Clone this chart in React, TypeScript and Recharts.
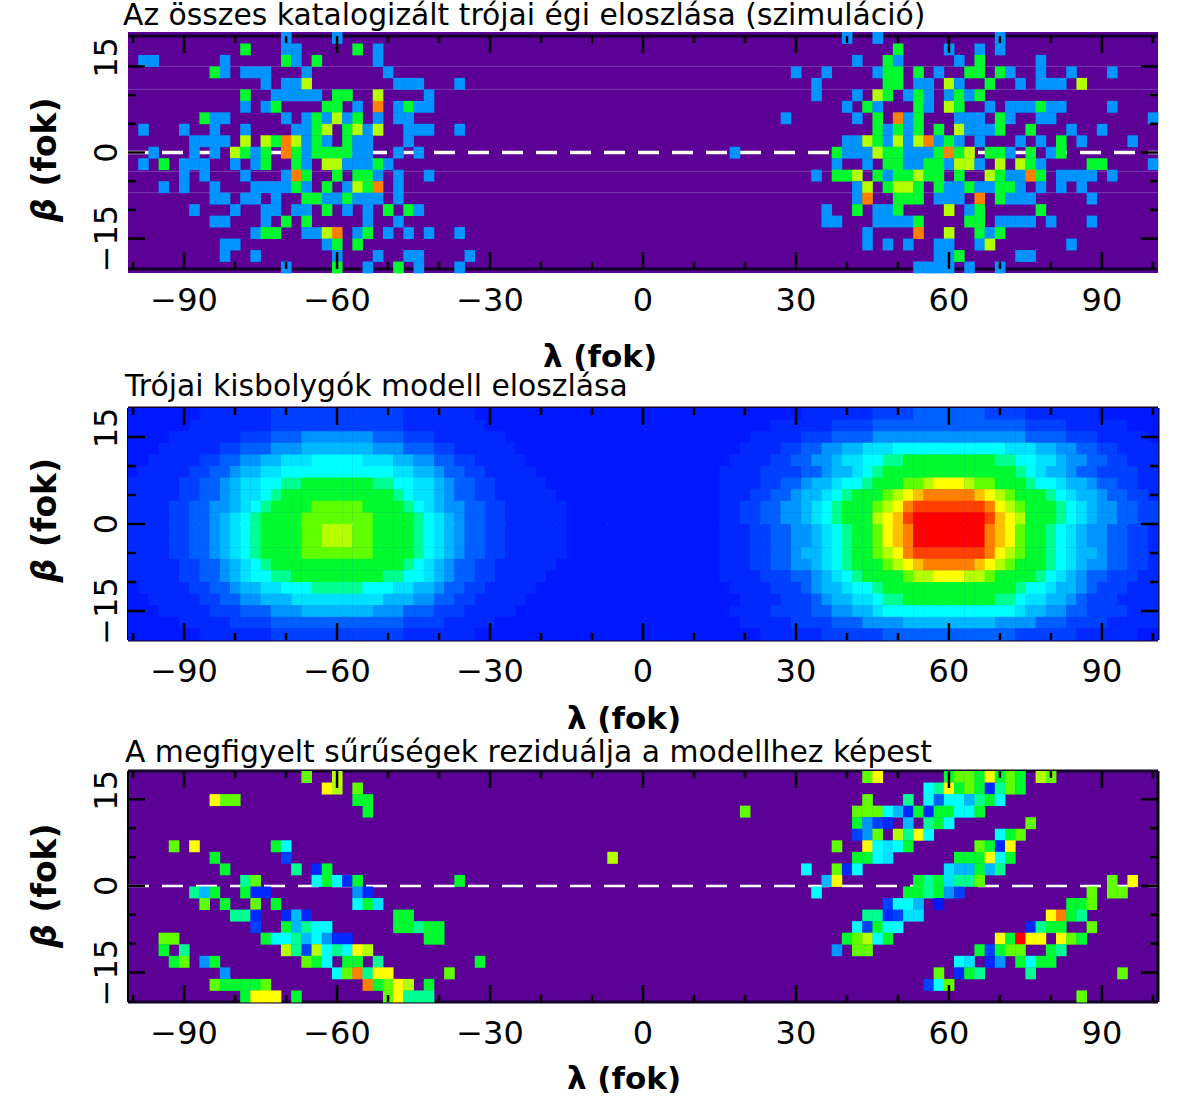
import { ScatterChart, Scatter, XAxis, YAxis, ReferenceLine, CartesianGrid } from "recharts";

const FONT = "'DejaVu Sans', sans-serif";

const lambdaTicks = [-100, -90, -80, -70, -60, -50, -40, -30, -20, -10, 0, 10, 20, 30, 40, 50, 60, 70, 80, 90, 100];
const betaTicks = [-15, -10, -5, 0, 5, 10, 15];

// rainbow levels used by all three maps
const palette: Record<string, string> = {
  "0": "#0018ff", "1": "#0028ff", "2": "#0040ff", "3": "#0060ff", "4": "#0094ff",
  "5": "#00b8ff", "6": "#00e0ff", "7": "#00ffff", "8": "#00ff90", "9": "#00fa30",
  a: "#60ff00", b: "#b4ff00", c: "#ffff00", d: "#ffc000", e: "#ff8000", f: "#ff4000", g: "#ff0000",
};

const catalogBetas = [20, 18, 16, 14, 12, 10, 8, 6, 4, 2, 0, -2, -4, -6, -8, -10, -12, -14, -16, -18, -20];
const catalogRows = [
  "-70:4 -60:4 40:4 46:4 70:4",
  "-78:9 -70:4 -68:4 -56:9 -52:4 50:9 60:4 66:4 70:4",
  "-98:4 -96:4 -82:4 -70:9 -68:4 -64:9 -52:4 42:4 48:9 50:4 62:4 66:9 78:4",
  "-84:9 -82:4 -78:4 -76:4 -74:4 -66:4 -50:4 30:4 36:4 46:4 48:9 50:9 54:9 58:4 64:9 66:9 70:9 72:4 78:4 84:4 92:4",
  "-74:4 -70:4 -68:4 -66:b -48:4 -46:4 -44:4 -36:4 34:4 48:9 50:9 54:4 56:4 60:b 62:4 68:9 74:4 78:4 80:4 82:4 86:b",
  "-78:9 -72:4 -70:4 -68:4 -66:4 -64:4 -60:9 -58:9 -52:b -42:4 34:4 42:4 46:b 48:9 52:4 54:9 56:4 60:4 62:9 64:4 66:9",
  "-78:4 -74:4 -72:9 -62:9 -60:9 -56:4 -52:e -48:4 -46:9 -44:4 -42:4 40:4 44:9 46:4 54:9 56:4 60:b 62:9 68:4 72:4 74:4 76:4 78:9 80:4 82:4 92:4",
  "-86:9 -84:4 -82:4 -70:4 -66:4 -64:9 -62:4 -60:b -58:4 -56:9 -52:4 -48:4 -46:4 28:4 42:4 46:9 50:e 52:4 54:9 62:4 64:4 66:4 70:9 72:4 78:4 80:4 100:4",
  "-98:4 -90:4 -84:4 -78:4 -68:4 -66:4 -64:9 -62:b -58:9 -56:b -54:4 -52:b -46:4 -44:4 -42:4 -36:4 46:9 48:4 50:9 52:4 54:9 58:9 62:b 64:4 66:4 68:4 70:9 76:9 84:4 90:4",
  "-88:4 -86:4 -84:4 -82:4 -78:b -74:b -72:9 -70:e -68:b -66:4 -64:9 -62:4 -58:9 -56:4 -54:4 -46:4 40:4 42:4 44:b 46:9 48:4 50:b 52:4 54:b 56:e 58:4 60:9 62:4 66:4 74:4 78:4 82:9 86:4 96:4",
  "-96:4 -88:4 -84:4 -80:b -78:9 -76:4 -74:9 -70:e -68:9 -66:4 -64:9 -62:9 -60:9 -58:9 -56:4 -54:4 -48:4 -44:4 18:4 38:9 40:4 42:4 44:4 46:b 48:9 50:9 52:4 54:4 56:4 58:9 60:e 62:9 64:b 68:9 70:9 72:4 76:9 80:4 82:9",
  "-98:4 -94:9 -90:4 -88:4 -86:4 -80:4 -76:4 -74:9 -68:9 -66:4 -62:b -60:b -58:4 -56:4 -54:4 -52:9 -50:4 38:4 44:4 48:9 50:9 52:4 54:4 56:9 58:9 60:4 62:b 64:b 66:4 70:b 74:b 76:9 78:4 88:9 90:9 100:4",
  "-90:4 -86:4 -78:4 -70:4 -68:e -66:9 -60:9 -56:9 -54:9 -52:4 -48:4 -42:4 34:4 38:9 40:9 42:b 46:9 48:4 50:9 52:9 54:b 56:9 58:9 62:9 68:b 70:9 72:4 74:4 76:e 78:9 82:4 84:4 86:4 88:4 92:4",
  "-94:4 -90:4 -84:4 -76:4 -74:4 -72:4 -70:4 -68:9 -66:4 -62:9 -58:4 -56:b -54:9 -52:e -48:4 42:4 44:b 48:9 50:b 52:b 54:9 58:9 60:4 62:4 64:9 66:4 68:4 70:9 72:9 74:4 78:4 82:4 86:4",
  "-84:4 -82:4 -78:4 -76:4 -72:4 -66:9 -64:9 -62:4 -60:4 -58:9 -56:4 -54:4 -52:4 -48:4 42:4 44:e 50:9 52:9 54:9 58:4 60:4 62:4 66:e 70:9 72:4 74:4 76:4 88:4",
  "-88:4 -80:4 -74:4 -72:4 -68:4 -66:4 -62:9 -58:4 -54:4 -50:9 -46:9 -44:4 36:4 42:9 46:4 48:4 50:9 60:b 64:4 66:9 78:9",
  "-84:4 -82:4 -74:4 -70:9 -66:9 -54:4 -48:4 36:4 38:4 46:4 48:4 50:4 52:4 54:9 64:9 66:9 70:4 72:4 74:4 76:4 80:4 88:4",
  "-76:4 -74:9 -72:9 -66:4 -64:4 -62:b -60:e -56:4 -54:9 -50:4 -46:4 -42:4 -36:4 44:4 54:e 60:b 66:9 68:4 70:9",
  "-82:4 -80:4 -62:4 -60:9 -56:9 44:4 48:4 52:4 58:4 60:4 66:4 68:b 84:4",
  "-82:4 -76:4 -60:4 -52:4 -46:4 -44:4 -34:4 58:4 60:4 62:9 74:4 76:4",
  "-70:4 -60:9 -54:4 -48:9 -44:4 -36:4 54:4 56:4 58:4 60:4 64:4 70:4",
];
const catalogStreaks = [15, 11, -3.3, -7];

const modelBetas = [19, 17, 15, 13, 11, 9, 7, 5, 3, 1, -1, -3, -5, -7, -9, -11, -13, -15, -17, -19];
// run-length rows, "level*count", left hump then gap then right hump, 101 columns
const modelLeftRows = [
  "0*7 1*7 2*13 1*7 0*9",
  "0*6 1*8 2*13 1*8 0*8",
  "0*4 1*7 2*3 3*3 4*7 3*3 2*3 1*7 0*6",
  "0*3 1*6 2*2 3*3 4*3 5*7 4*3 3*3 2*2 1*6 0*5",
  "0*2 1*5 2*2 3*2 4*2 5*2 6*3 7*5 6*3 5*2 4*2 3*2 2*2 1*5 0*4",
  "0 1*5 2*2 3*2 4 5*2 6*2 7*11 6*2 5*2 4 3*2 2*2 1*5 0*3",
  "1*5 2*2 3*2 4 5 6*2 7*2 8*2 9*7 8*2 7*2 6*2 5 4 3*2 2*2 1*5 0*2",
  "1*5 2*2 3*2 4 5 6*2 7 8 9*11 8 7 6*2 5 4 3*2 2*2 1*6 0",
  "1*4 2*2 3*2 4*2 5 6 7 8 9*4 a*5 9*4 8 7 6 5 4*2 3*2 2*2 1*6",
  "1*4 2*2 3*2 4 5 6 7 8 9*4 a*7 9*4 8 7 6 5 4 3*2 2*2 1*6",
  "1*4 2*2 3*2 4 5 6 7 8 9*4 a*2 b*3 a*2 9*4 8 7 6 5 4 3*2 2*2 1*6",
  "1*4 2*2 3*2 4 5 6 7 8 9*4 a*2 b*3 a*2 9*4 8 7 6 5 4 3*2 2*2 1*6",
  "1*4 2*2 3*2 4 5 6 7 8 9*4 a*7 9*4 8 7 6 5 4 3*2 2*2 1*6",
  "1*5 2*2 3*2 4 5 6 7 8 9*13 8 7 6 5 4 3*2 2*2 1*6 0",
  "1*5 2*2 3*2 4 5 6 7*2 8*2 9*9 8*2 7*2 6 5 4 3*2 2*2 1*5 0*2",
  "0 1*5 2*2 3*2 4 5*2 6*2 7*3 8*5 7*3 6*2 5*2 4 3*2 2*2 1*5 0*3",
  "0*2 1*5 2*2 3*2 4*2 5*3 6*9 5*3 4*2 3*2 2*2 1*5 0*4",
  "0*3 1*5 2*3 3*3 4*3 5*7 4*3 3*3 2*3 1*5 0*5",
  "0*5 1*5 2*4 3*13 2*4 1*5 0*7",
  "0*7 1*7 2*13 1*7 0*9",
];
const modelGap = "0*15";
const modelRightRows = [
  "0*8 1*7 2*4 3*7 2*4 1*7 0*6",
  "0*5 1*6 2*4 3*15 2*4 1*6 0*3",
  "0*3 1*5 2*3 3*4 4*15 3*4 2*3 1*5 0",
  "0*2 1*4 2*2 3*2 4*2 5*2 6*3 7*11 6*3 5*2 4*2 3*2 2*2 1*4",
  "0 1*4 2*2 3*2 4*2 5 6*2 7*2 8*2 9*9 8*2 7*2 6*2 5 4*2 3*2 2*2 1*3",
  "1*4 2*4 3*2 4 5*2 6 7 8 9*13 8 7 6 5*2 4 3*2 2*4 1*2",
  "1*4 2*2 3*2 4 5*2 6 7*2 8 9*3 a*2 b c*3 b a*2 9*3 8 7*2 6 5*2 4 3*2 2*2 1*2",
  "1*3 2*2 3*2 4 5*2 6 7 8 9*3 a b c d e*5 d c b a 9*3 8 7 6 5*2 4 3*2 2*2 1",
  "1*2 2*2 3*2 4*2 5 6 7 8 9*3 a b c e f*7 e c b a 9*3 8 7 6 5 4*2 3*2 2*2",
  "1*2 2*2 3*2 4*2 5 6 7 8 9*3 b c d f g*7 f d c b 9*3 8 7 6 5 4*2 3*2 2*2",
  "1*3 2*2 3*2 4*2 5 6 7 8 9*2 a c d e g*7 e d c a 9*2 8 7 6 5 4*2 3*2 2*2 1",
  "1*3 2*2 3*2 4*2 5 6 7 8 9*2 a c d e g*7 e d c a 9*2 8 7 6 5 4*2 3*2 2*2 1",
  "1*3 2*2 3*2 4 5*2 6 7 8 9*2 a b c e f*7 e c b a 9*2 8 7 6 5*2 4 3*2 2*2 1",
  "1*3 2*2 3*2 4*2 5 6 7 8 9*3 a b c d e*5 d c b a 9*3 8 7 6 5 4*2 3*2 2*2 1",
  "1*4 2*3 3*2 4 5 6 7 8 9*4 a b*2 c*3 b*2 a 9*4 8 7 6 5 4 3*2 2*3 1*2",
  "0 1*4 2*3 3 4 5*2 6 7*2 8 9*13 8 7*2 6 5*2 4 3 2*3 1*3",
  "0*2 1*4 2*3 3 4 5*2 6*2 7 8*2 9*9 8*2 7 6*2 5*2 4 3 2*3 1*4",
  "0 1*4 2*4 3*2 4*2 5*2 6 7*13 6 5*2 4*2 3*2 2*4 1*3",
  "0*2 1*5 2*4 3*3 4*4 5*9 4*4 3*3 2*4 1*5",
  "0*4 1*6 2*6 3*13 2*6 1*6 0*2",
];

const residualBetas = [18.9, 16.9, 14.9, 12.9, 10.9, 8.9, 6.9, 4.9, 2.9, 0.9, -1.1, -3.1, -5.1, -7.1, -9.1, -11.1, -13.1, -15.1, -17.1, -19.1];
const residualRows = [
  "-66:a -60:b 44:a 46:c 60:9 62:a 64:a 66:9 68:c 70:9 72:a 74:9 78:b 80:a",
  "-62:c -60:b -56:a 56:7 58:8 60:c 62:9 64:a 66:9 68:1 70:8 72:a 74:9",
  "-84:c -82:a -80:a -56:9 -54:9 44:a 52:8 56:7 58:3 60:7 62:7 64:5 66:8 68:9 70:7",
  "-54:9 20:a 42:a 44:a 46:a 48:7 50:5 52:1 54:9 56:1 58:9 60:9 62:7 64:7 66:9",
  "42:9 44:4 46:2 48:1 52:5 56:8 58:9 60:7 76:a",
  "42:2 44:4 46:a 50:b 52:8 54:c 56:7 70:7 72:9 74:a",
  "-92:a -88:c -72:9 -70:7 38:a 44:c 46:7 48:6 50:7 52:9 66:a 68:9 70:1 72:c",
  "-84:9 -70:2 -6:b 42:9 44:9 46:7 48:6 62:9 64:9 66:9 68:c 70:7 72:9",
  "-82:9 -68:8 -64:1 -62:9 32:7 38:a 40:1 42:7 60:6 62:5 64:5 66:9 68:5 70:8",
  "-78:8 -76:a -64:7 -62:9 -60:7 -58:1 -56:9 -36:9 36:5 38:c 54:9 56:8 58:9 60:6 62:8 64:8 66:a 92:a 96:c",
  "-88:8 -86:5 -84:9 -78:9 -76:1 -74:1 -56:4 -54:1 34:7 52:9 54:9 56:8 58:9 60:4 62:2 88:a 92:a 94:a",
  "-86:a -82:9 -76:a -72:9 -56:7 -54:9 -52:6 48:2 50:7 52:7 54:5 58:0 84:9 86:9 88:a",
  "-80:8 -78:8 -76:1 -70:1 -68:5 -66:1 -48:9 -46:9 44:8 46:8 48:1 50:2 52:6 54:6 80:c 82:e 84:9 86:8",
  "-76:2 -70:9 -68:5 -66:8 -64:7 -62:7 -48:9 -46:9 -44:8 -42:9 -40:9 42:7 44:2 46:9 48:7 50:7 76:1 78:8 80:9 82:9 88:a",
  "-94:a -92:a -74:9 -72:7 -70:7 -68:8 -66:5 -64:7 -62:4 -60:1 -58:1 -42:9 -40:9 40:9 42:a 44:b 46:7 48:9 70:c 72:9 74:g 76:c 78:c 82:c 84:a 86:9",
  "-94:9 -90:8 -70:b -68:8 -66:2 -64:b -62:7 -60:8 -58:7 -56:c -54:b 38:4 42:a 44:a 66:9 68:2 70:9 72:a 74:a 80:9 82:8",
  "-92:9 -90:a -86:4 -84:9 -66:a -64:9 -62:7 -58:9 -56:9 -52:8 -32:9 62:7 64:6 68:1 70:4 74:9 76:7 78:9 80:9",
  "-82:4 -60:7 -58:a -56:e -54:8 -52:c -50:c -38:a 58:a 62:1 64:9 66:8 76:8 94:a",
  "-84:a -82:9 -80:9 -78:9 -76:9 -74:a -54:e -52:9 -50:a -48:c -46:b -42:9 56:2 58:7 60:a",
  "-78:9 -76:c -74:c -72:c -68:9 -50:a -48:c -46:8 -44:8 -42:8 86:a",
];

type Cell = { x: number; y: number; level: string };

// "lambda:level" tokens, one string per beta row
function sparseCells(rows: string[], betas: number[]): Cell[] {
  const out: Cell[] = [];
  rows.forEach((row, r) => {
    row.split(" ").forEach((tok) => {
      const [x, level] = tok.split(":");
      out.push({ x: Number(x), y: betas[r], level });
    });
  });
  return out;
}

function modelCells(): Cell[] {
  const out: Cell[] = [];
  modelBetas.forEach((beta, r) => {
    const row = modelLeftRows[r] + " " + modelGap + " " + modelRightRows[r];
    let col = 0;
    row.split(" ").forEach((tok) => {
      const [level, count] = tok.split("*");
      const n = count ? Number(count) : 1;
      for (let k = 0; k < n; k++) {
        out.push({ x: (col - 50) * 2, y: beta, level });
        col++;
      }
    });
  });
  return out;
}

const PLOT_LEFT = 128;
const PLOT_RIGHT = 1158;
const CHART_PAD = 12;
const CELL_W = ((PLOT_RIGHT - PLOT_LEFT) / 202) * 2;

type PanelProps = {
  title: string;
  titleTop: number;
  titleLeft: number;
  plotTop: number;
  plotH: number;
  domain: [number, number];
  cells: Cell[];
  background: string;
  frameInset: number;
  sideFrame: boolean;
  tickLabelDy: number;
  xLabelX: number;
  xLabelDy: number;
  yLabelDy: number;
  dashWidth: number;
  streaks?: number[];
};

function Panel(p: PanelProps) {
  const chartH = p.plotH + CHART_PAD + 110;
  const span = p.domain[1] - p.domain[0];
  const cellH = (p.plotH / span) * 2;
  const frameTop = CHART_PAD + p.frameInset;
  const frameBottom = CHART_PAD + p.plotH - p.frameInset;

  const xTick = (t: any) => {
    const v = t.payload.value;
    const major = v % 30 === 0;
    const len = major ? 17 : 7;
    return (
      <g>
        <line x1={t.x} x2={t.x} y1={frameBottom} y2={frameBottom - len} stroke="#000" strokeWidth={2.5} />
        <line x1={t.x} x2={t.x} y1={frameTop} y2={frameTop + len} stroke="#000" strokeWidth={2.5} />
        {major && (
          <text x={t.x} y={CHART_PAD + p.plotH + p.tickLabelDy} textAnchor="middle" fontFamily={FONT} fontSize={32} fill="#000">
            {v < 0 ? "\u2212" + -v : v}
          </text>
        )}
      </g>
    );
  };

  const yTick = (t: any) => {
    const v = t.payload.value;
    const major = v % 15 === 0;
    const len = major ? 17 : 8;
    const cy = t.y + (v === 15 ? -9 : 0);
    return (
      <g>
        <line x1={PLOT_LEFT} x2={PLOT_LEFT + len} y1={t.y} y2={t.y} stroke="#000" strokeWidth={2.5} />
        <line x1={PLOT_RIGHT} x2={PLOT_RIGHT - len} y1={t.y} y2={t.y} stroke="#000" strokeWidth={2.5} />
        {major && (
          <text x={117} y={cy} textAnchor="middle" fontFamily={FONT} fontSize={32} fill="#000" transform={`rotate(-90 117 ${cy})`}>
            {v < 0 ? "\u2212" + -v : v}
          </text>
        )}
      </g>
    );
  };

  const xLabel = () => (
    <text x={p.xLabelX} y={CHART_PAD + p.plotH + p.xLabelDy} textAnchor="middle" fontFamily={FONT} fontWeight="bold" fontSize={31} fill="#000">
      {"\u03bb (fok)"}
    </text>
  );

  const yCenter = CHART_PAD + p.plotH / 2 + p.yLabelDy;
  const yLabel = () => (
    <text x={56} y={yCenter} textAnchor="middle" fontFamily={FONT} fontWeight="bold" fontSize={33} fill="#000" transform={`rotate(-90 56 ${yCenter})`}>
      <tspan fontStyle="italic">{"\u03b2"}</tspan>
      {" (fok)"}
    </text>
  );

  const cellShape = (s: any) => (
    <rect
      x={s.cx - CELL_W / 2}
      y={s.cy - cellH / 2}
      width={CELL_W + 0.4}
      height={cellH + 0.4}
      fill={palette[s.payload.level]}
    />
  );

  return (
    <>
      <div style={{ position: "absolute", left: p.titleLeft, top: p.titleTop, fontFamily: FONT, fontSize: 29.8, lineHeight: "30px", whiteSpace: "nowrap", color: "#000" }}>
        {p.title}
      </div>
      <div style={{ position: "absolute", left: 0, top: p.plotTop - CHART_PAD }}>
        <ScatterChart width={1179} height={chartH} margin={{ top: CHART_PAD, right: 1179 - PLOT_RIGHT, bottom: 0, left: 0 }}>
          <CartesianGrid horizontal={false} vertical={false} fill={p.background} />
          <Scatter data={p.cells} dataKey="y" shape={cellShape} isAnimationActive={false} />
          <XAxis
            type="number"
            dataKey="x"
            domain={[-101, 101]}
            ticks={lambdaTicks}
            interval={0}
            height={110}
            axisLine={false}
            tickLine={false}
            tick={xTick}
            label={xLabel}
          />
          <YAxis
            type="number"
            dataKey="y"
            domain={p.domain}
            ticks={betaTicks}
            interval={0}
            width={PLOT_LEFT}
            axisLine={false}
            tickLine={false}
            tick={yTick}
            label={yLabel}
          />
          {(p.streaks ?? []).map((b) => (
            <ReferenceLine key={b} y={b} stroke="#7a3ab0" strokeWidth={1} />
          ))}
          <ReferenceLine y={p.domain[1] - p.frameInset / (p.plotH / span)} stroke="#14002c" strokeWidth={3} />
          <ReferenceLine y={p.domain[0] + p.frameInset / (p.plotH / span)} stroke="#14002c" strokeWidth={3} />
          {p.sideFrame && <ReferenceLine x={-101} stroke="#000" strokeWidth={2} />}
          {p.sideFrame && <ReferenceLine x={101} stroke="#000" strokeWidth={3} />}
          <ReferenceLine y={0} stroke="#fff" strokeWidth={p.dashWidth} strokeDasharray="21 13" />
        </ScatterChart>
      </div>
    </>
  );
}

export default function App() {
  return (
    <div style={{ position: "absolute", left: 0, top: 0, width: 1179, height: 1116, background: "#fff", overflow: "hidden" }}>
      <Panel
        title="Az összes katalogizált trójai égi eloszlása (szimuláció)"
        titleTop={0}
        titleLeft={123}
        plotTop={32}
        plotH={241}
        domain={[-21, 21]}
        cells={sparseCells(catalogRows, catalogBetas)}
        background="#5c0096"
        frameInset={4}
        sideFrame={false}
        tickLabelDy={38}
        xLabelX={600}
        xLabelDy={94}
        yLabelDy={7}
        dashWidth={3.5}
        streaks={catalogStreaks}
      />
      <Panel
        title="Trójai kisbolygók modell eloszlása"
        titleTop={371}
        titleLeft={125}
        plotTop={408}
        plotH={232}
        domain={[-20, 20]}
        cells={modelCells()}
        background="#0018ff"
        frameInset={0}
        sideFrame={true}
        tickLabelDy={42}
        xLabelX={624}
        xLabelDy={89}
        yLabelDy={-4}
        dashWidth={2.5}
      />
      <Panel
        title="A megfigyelt sűrűségek reziduálja a modellhez képest"
        titleTop={737}
        titleLeft={125}
        plotTop={771}
        plotH={231}
        domain={[-20.1, 19.9]}
        cells={sparseCells(residualRows, residualBetas)}
        background="#5c0096"
        frameInset={0}
        sideFrame={true}
        tickLabelDy={42}
        xLabelX={624}
        xLabelDy={87}
        yLabelDy={-1}
        dashWidth={2.5}
      />
    </div>
  );
}
